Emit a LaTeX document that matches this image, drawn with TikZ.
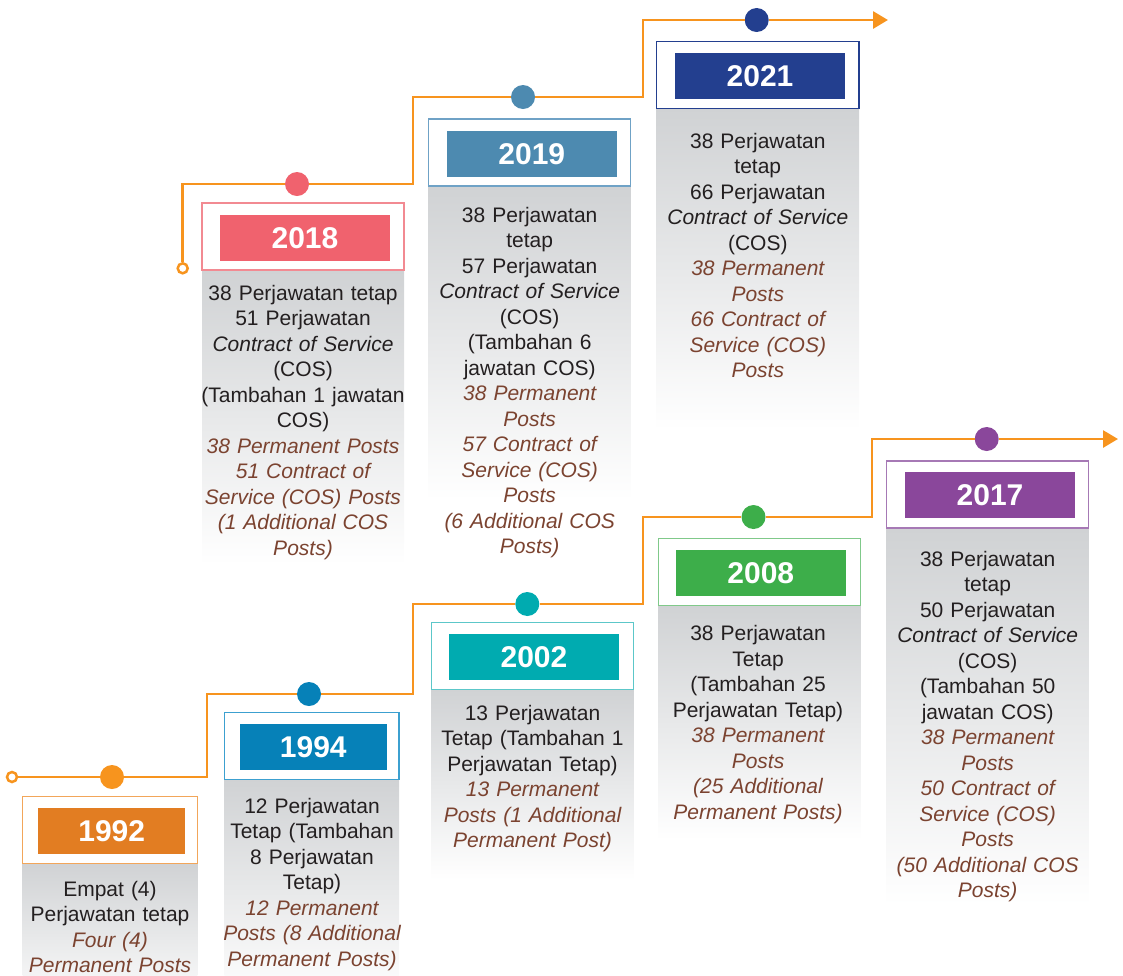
\documentclass[tikz,border=0pt]{standalone}
\usepackage{fontspec}
\setmainfont{Liberation Sans}
\usetikzlibrary{arrows.meta}
\definecolor{ln}{HTML}{F7941E}
\definecolor{txt}{HTML}{231F20}
\definecolor{brn}{HTML}{7B4330}
\definecolor{gtop}{HTML}{D0D2D4}
\definecolor{c92}{HTML}{E27D22}\definecolor{b92}{HTML}{F2A65A}
\definecolor{c94}{HTML}{0681B8}\definecolor{b94}{HTML}{3CA0D0}
\definecolor{c02}{HTML}{00ABB0}\definecolor{b02}{HTML}{5CC7C9}
\definecolor{c08}{HTML}{3DAE4A}\definecolor{b08}{HTML}{80C98A}
\definecolor{c17}{HTML}{8A479B}\definecolor{b17}{HTML}{A679B5}
\definecolor{c18}{HTML}{F0626E}\definecolor{b18}{HTML}{F28A92}
\definecolor{c19}{HTML}{4D8AB0}\definecolor{b19}{HTML}{6FA2C6}
\definecolor{c21}{HTML}{233F8F}\definecolor{b21}{HTML}{233F8F}
\tikzset{
  obox/.style={draw=#1, fill=white, line width=1.3pt, minimum height=67pt, inner sep=0pt},
  ibox/.style={fill=#1, text=white, minimum height=46pt, inner sep=0pt,
    font=\fontsize{30}{30}\selectfont\bfseries},
  dot/.style={circle, fill=#1, minimum size=24pt, inner sep=0pt},
  startc/.style={circle, draw=ln, fill=white, line width=2.5pt, minimum size=10pt, inner sep=0pt},
  tline/.style={draw=ln, line width=2.8pt},
  txtnode/.style={font=\fontsize{21}{25.5}\selectfont, text=txt, align=center,
    text width=240pt, inner sep=0pt, anchor=base},
  col/.style={top color=gtop, bottom color=white}
}
\begin{document}
\begin{tikzpicture}[x=1pt,y=-1pt]
\useasboundingbox (0,0) rectangle (1123,975);
% gradient columns
\shade[col] (22.7,863) rectangle (197.3,1010);
\shade[col] (224.3,779) rectangle (399,1000);
\shade[col] (431.7,689) rectangle (633.3,880);
\shade[col] (658.3,605) rectangle (860.7,840);
\shade[col] (886.7,528) rectangle (1088.7,905);
\shade[col] (202,270) rectangle (404,565);
\shade[col] (428.7,186) rectangle (630.7,500);
\shade[col] (656.7,108) rectangle (859,430);
% boxes
\node[obox=b92, minimum width=174.6pt] (o92) at (110,830) {};
\node[ibox=c92, minimum width=146.7pt] (y92) at (111.7,831.2) {1992};
\node[obox=b94, minimum width=174.7pt] (o94) at (311.7,746) {};
\node[ibox=c94, minimum width=146.7pt] (y94) at (313.3,747) {1994};
\node[obox=b02, minimum width=201.6pt] (o02) at (532.5,656) {};
\node[ibox=c02, minimum width=170pt] (y02) at (534,656.7) {2002};
\node[obox=b08, minimum width=202.4pt] (o08) at (759.5,572.2) {};
\node[ibox=c08, minimum width=170.3pt] (y08) at (760.8,572.9) {2008};
\node[obox=b17, minimum width=202pt] (o17) at (987.7,494.5) {};
\node[ibox=c17, minimum width=170pt] (y17) at (990,494.9) {2017};
\node[obox=b18, minimum width=202pt] (o18) at (303,236.4) {};
\node[ibox=c18, minimum width=170pt] (y18) at (305,237.9) {2018};
\node[obox=b19, minimum width=202pt] (o19) at (529.7,152.6) {};
\node[ibox=c19, minimum width=170.3pt] (y19) at (531.8,153.9) {2019};
\node[obox=b21, minimum width=202.3pt] (o21) at (757.8,75) {};
\node[ibox=c21, minimum width=170pt] (y21) at (760,75.9) {2021};
% dots and ends
\node[startc] (s1) at (12,777) {};
\node[startc] (s2) at (182.7,268.3) {};
\node[dot=ln] (d92) at (112,777) {};
\node[dot=c94] (d94) at (309,694) {};
\node[dot=c02] (d02) at (527.3,604) {};
\node[dot=c08] (d08) at (753.5,517) {};
\node[dot=c17] (d17) at (986.7,439) {};
\node[dot=c18] (d18) at (297,184) {};
\node[dot=c19] (d19) at (523,97) {};
\node[dot=c21] (d21) at (756.7,20) {};
\coordinate (k1) at (207,777);
\coordinate (k2) at (413,694);
\coordinate (k3) at (643,604);
\coordinate (k4) at (872,517);
\coordinate (e1) at (1118,439);
\coordinate (k5) at (413,184);
\coordinate (k6) at (643,97);
\coordinate (e2) at (888,20);
% timeline
\draw[tline] (s1) -- (d92) -- (k1) |- (d94) -- (k2) |- (d02) -- (k3) |- (d08) -- (k4) |- (d17);
\draw[tline, -{Triangle[length=15pt,width=17pt]}] (d17) -- (e1);
\draw[tline] (s2) |- (d18) -- (k5) |- (d19) -- (k6) |- (d21);
\draw[tline, -{Triangle[length=15pt,width=17pt]}] (d21) -- (e2);
% texts
\node[txtnode] (t92) at (110,896) {Empat (4)\\Perjawatan tetap\\\color{brn}\itshape Four (4)\\Permanent Posts};
\node[txtnode] (t94) at (312,813) {12 Perjawatan\\Tetap (Tambahan\\8 Perjawatan\\Tetap)\\\color{brn}\itshape 12 Permanent\\Posts (8 Additional\\Permanent Posts)};
\node[txtnode] (t02) at (532.5,720) {13 Perjawatan\\Tetap (Tambahan 1\\Perjawatan Tetap)\\\color{brn}\itshape 13 Permanent\\Posts (1 Additional\\Permanent Post)};
\node[txtnode] (t08) at (758,640.7) {38 Perjawatan\\Tetap\\(Tambahan 25\\Perjawatan Tetap)\\\color{brn}\itshape 38 Permanent\\Posts\\(25 Additional\\Permanent Posts)};
\node[txtnode] (t17) at (987.7,566) {38 Perjawatan\\tetap\\50 Perjawatan\\\textit{Contract of Service}\\(COS)\\(Tambahan 50\\jawatan COS)\\\color{brn}\itshape 38 Permanent\\Posts\\50 Contract of\\Service (COS)\\Posts\\(50 Additional COS\\Posts)};
\node[txtnode] (t18) at (303,300) {38 Perjawatan tetap\\51 Perjawatan\\\textit{Contract of Service}\\(COS)\\(Tambahan 1 jawatan\\COS)\\\color{brn}\itshape 38 Permanent Posts\\51 Contract of\\Service (COS) Posts\\(1 Additional COS\\Posts)};
\node[txtnode] (t19) at (529.7,222) {38 Perjawatan\\tetap\\57 Perjawatan\\\textit{Contract of Service}\\(COS)\\(Tambahan 6\\jawatan COS)\\\color{brn}\itshape 38 Permanent\\Posts\\57 Contract of\\Service (COS)\\Posts\\(6 Additional COS\\Posts)};
\node[txtnode] (t21) at (757.8,148.3) {38 Perjawatan\\tetap\\66 Perjawatan\\\textit{Contract of Service}\\(COS)\\\color{brn}\itshape 38 Permanent\\Posts\\66 Contract of\\Service (COS)\\Posts};
\end{tikzpicture}
\end{document}
